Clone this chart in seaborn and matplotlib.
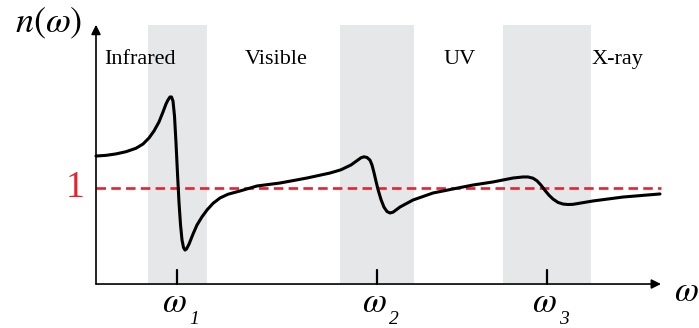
import matplotlib
matplotlib.use('Agg')
import matplotlib.pyplot as plt
import seaborn as sns
import pandas as pd

# refractive index curve n(omega) (arbitrary units)
omega = [0.00, 0.10, 0.20, 0.30, 0.40, 0.47, 0.53, 0.58, 0.63, 0.67, 0.70, 0.72,
         0.74, 0.755, 0.77, 0.785, 0.80, 0.815, 0.83, 0.845, 0.86, 0.875, 0.89, 0.905,
         0.93, 0.97, 1.01, 1.06, 1.11, 1.17, 1.24, 1.32, 1.44, 1.61, 1.84, 2.11,
         2.34, 2.45, 2.55, 2.61, 2.65, 2.68, 2.71, 2.74, 2.76, 2.78, 2.80, 2.82,
         2.85, 2.88, 2.91, 2.94, 2.97, 3.04, 3.17, 3.37, 3.57, 3.77, 3.97, 4.17,
         4.27, 4.32, 4.37, 4.41, 4.45, 4.49, 4.53, 4.57, 4.62, 4.67, 4.72, 4.77,
         4.97, 5.27, 5.64]
n_vals = [1.333, 1.340, 1.355, 1.378, 1.414, 1.458, 1.521, 1.594, 1.688, 1.792, 1.875, 1.917,
          1.948, 1.948, 1.906, 1.750, 1.470, 1.150, 0.850, 0.620, 0.460, 0.380, 0.354, 0.365,
          0.415, 0.520, 0.615, 0.700, 0.771, 0.840, 0.896, 0.935, 0.969, 1.021, 1.052, 1.104,
          1.156, 1.190, 1.240, 1.285, 1.315, 1.325, 1.318, 1.290, 1.240, 1.160, 1.070, 0.985,
          0.880, 0.800, 0.755, 0.740, 0.748, 0.802, 0.875, 0.948, 0.990, 1.031, 1.063, 1.104,
          1.115, 1.115, 1.102, 1.075, 1.030, 0.975, 0.925, 0.885, 0.850, 0.833, 0.828, 0.830,
          0.865, 0.906, 0.938]

# absorption bands and resonance frequencies
band_lo = [0.52, 2.44, 4.07]
band_hi = [1.11, 3.18, 4.95]
resonances = [0.81, 2.81, 4.51]
res_subs = ['1', '2', '3']

regions = ['Infrared', 'Visible', 'UV', 'X-ray']
region_pos = [0.44, 1.80, 3.64, 5.21]

sns.set_theme(style='white')
plt.rcParams['mathtext.fontset'] = 'stix'
plt.rcParams['font.family'] = ['Liberation Serif', 'DejaVu Serif']
plt.rcParams['text.color'] = 'black'

fig = plt.figure(figsize=(6.99, 3.28), dpi=100)
ax = fig.add_axes([0, 0, 1, 1])
ax.set_xlim(-0.96, 6.03)
ax.set_ylim(-0.458, 2.958)
ax.axis('off')

top = 2.70
x_end = 5.65

for lo, hi in zip(band_lo, band_hi):
    ax.fill_between([lo, hi], 0, top, color='#e6e7e9', lw=0, zorder=0)

# n = 1 reference
ax.plot([0, x_end], [1, 1], color='#e8212e', lw=1.9, dashes=(3.6, 2.0), zorder=2)
ax.text(-0.21, 1.0, '1', color='#e8212e', fontsize=27, ha='center', va='center')

df = pd.DataFrame({'omega': omega, 'n': n_vals})
sns.lineplot(data=df, x='omega', y='n', sort=False, color='black', lw=2.2, ax=ax, zorder=3)

# axes with arrows
ax.annotate('', xy=(0, top), xytext=(0, 0),
            arrowprops=dict(arrowstyle='-|>', color='black', lw=1.2,
                            mutation_scale=14, shrinkA=0, shrinkB=0))
ax.annotate('', xy=(x_end, 0), xytext=(0, 0),
            arrowprops=dict(arrowstyle='-|>', color='black', lw=1.2,
                            mutation_scale=14, shrinkA=0, shrinkB=0))

for w, sub in zip(resonances, res_subs):
    ax.plot([w, w], [0, 0.145], color='black', lw=1.6)
    ax.text(w - 0.03, -0.20, r'$\omega$', fontsize=25, ha='center', va='center')
    ax.text(w + 0.17, -0.37, sub, fontsize=14, fontstyle='italic',
            ha='center', va='center')

for pos, name in zip(region_pos, regions):
    ax.text(pos, 2.34, name, fontsize=16, ha='center', va='center')

ax.text(-0.47, 2.71, r'$n(\omega)$', fontsize=26, ha='center', va='center')
ax.text(5.90, -0.09, r'$\omega$', fontsize=25, ha='center', va='center')

fig.savefig('out.png', dpi=100)
